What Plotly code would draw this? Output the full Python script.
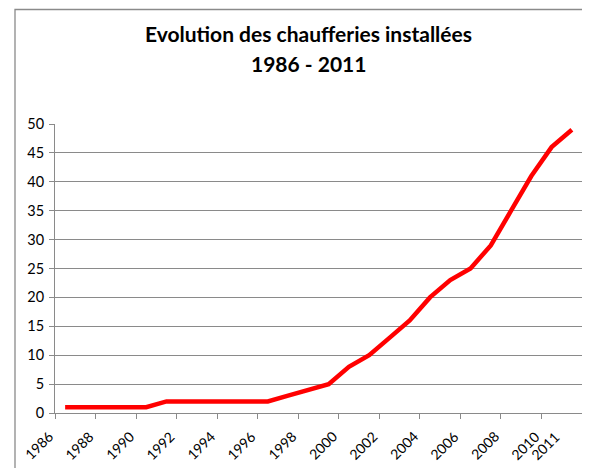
import plotly.graph_objects as go

years = list(range(1986, 2012))
values = [1, 1, 1, 1, 1, 2, 2, 2, 2, 2, 2, 3, 4, 5, 8, 10, 13, 16, 20, 23, 25, 29, 35, 41, 46, 49]
tick_labels = ["1986", "1988", "1990", "1992", "1994", "1996", "1998", "2000",
               "2002", "2004", "2006", "2008", "2010", "2011"]
title_lines = ["Evolution des chaufferies installées", "1986 - 2011"]

FONT = "Lato"
GRID = "#8a8a8a"

W, H = 590, 468
OFF = 8  # page body margin offset in the screenshot
ML, MR, MT, MB = 55 - OFF, W - (582 - OFF), 124 - OFF, H - (413 - OFF)
PW = W - ML - MR
PH = H - MT - MB
CAT = PW / len(years)

def px_x(sx):
    return (sx - OFF - ML) / PW

def px_y(sy):
    return (H - MB - (sy - OFF)) / PH

fig = go.Figure()
fig.add_trace(go.Scatter(
    x=years, y=values, mode="lines",
    line=dict(color="#ff0000", width=4.5),
    hoverinfo="skip", showlegend=False,
))

boundaries = [years[0] - 0.5 + 2 * k for k in range(len(years) // 2 + 1)]

label_annotations = [
    dict(text=t, xref="x", yref="paper", x=int(t) - 0.5 + 2.5 / CAT, y=px_y(427),
         xanchor="right", yanchor="top", textangle=-45, showarrow=False,
         borderpad=0, font=dict(family=FONT, size=14, color="#000000"))
    for t in tick_labels
]

fig.update_layout(
    width=W, height=H,
    margin=dict(l=ML, r=MR, t=MT, b=MB, pad=0, autoexpand=False),
    paper_bgcolor="white", plot_bgcolor="white",
    font=dict(family=FONT, size=14, color="#000000"),
    xaxis=dict(
        range=[years[0] - 0.5, years[-1] + 0.5],
        tickmode="array", tickvals=boundaries, showticklabels=False,
        ticks="outside", ticklen=5, tickcolor=GRID, tickwidth=1,
        showgrid=False, zeroline=False, automargin=False,
        showline=True, linecolor=GRID, linewidth=1,
    ),
    yaxis=dict(
        range=[0, 50], tickmode="linear", tick0=0, dtick=5,
        showgrid=True, gridcolor=GRID, gridwidth=1,
        zeroline=False, showline=True, linecolor=GRID, linewidth=1,
        ticks="outside", ticklen=5, tickcolor=GRID, tickwidth=1,
        ticklabelstandoff=2, automargin=False,
        tickfont=dict(family=FONT, size=14.5, color="#000000"),
    ),
    shapes=[dict(type="rect", xref="paper", yref="paper",
                 x0=px_x(15), x1=px_x(700), y0=px_y(600), y1=px_y(9.5),
                 line=dict(color="#8a8a8a", width=1.3), fillcolor="rgba(0,0,0,0)",
                 layer="below")],
    annotations=[
        dict(text="<b>%s</b>" % title_lines[0], xref="paper", yref="paper",
             x=px_x(308), y=px_y(34), xanchor="center", yanchor="middle",
             showarrow=False, font=dict(family=FONT, size=21, color="#000000")),
        dict(text="<b>%s</b>" % title_lines[1], xref="paper", yref="paper",
             x=px_x(308), y=px_y(64), xanchor="center", yanchor="middle",
             showarrow=False, font=dict(family=FONT, size=21, color="#000000")),
    ] + label_annotations,
)

fig.write_html("out.html")
